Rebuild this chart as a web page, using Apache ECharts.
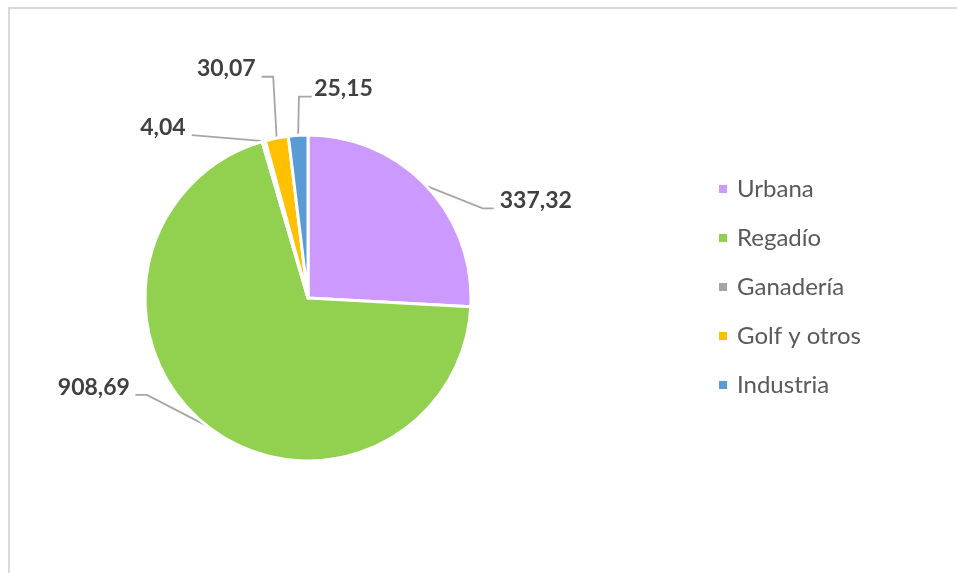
<!DOCTYPE html>
<html>
<head>
<meta charset="utf-8">
<script src="https://cdn.jsdelivr.net/npm/echarts@6/dist/echarts.min.js"></script>
<style>
html,body{margin:0;padding:0;background:#fff;}
#chart{width:957px;height:573px;}
</style>
</head>
<body>
<div id="chart"></div>
<script>
const categories = ['Urbana', 'Regadío', 'Ganadería', 'Golf y otros', 'Industria'];
const values = [337.32, 908.69, 4.04, 30.07, 25.15];
const colors = ['#CC99FF', '#92D050', '#A5A5A5', '#FFC000', '#5B9BD5'];

// label placement relative to each slice's anchor point (layout only)
const labelPlacement = [
  { bend: [56.5, 22.5], end: [67.5, 22.5], text: [73.5, 15], align: 'left' },
  { bend: [-60, -31], end: [-71.5, -31], text: [-77, -38.5], align: 'right' },
  { bend: [-72, -6], end: [-72, -6], text: [-78, -13.5], align: 'right' },
  { bend: [-3.5, -61.3], end: [-15.1, -61.3], text: [-21, -69], align: 'right' },
  { bend: [0.8, -38.6], end: [13.5, -38.6], text: [16, -47], align: 'left' }
];

const chart = echarts.init(document.getElementById('chart'), null, { renderer: 'canvas' });
const fmt = v => v.toFixed(2).replace('.', ',');

chart.setOption({
  animation: false,
  backgroundColor: '#ffffff',
  graphic: [{
    type: 'rect',
    shape: { x: 9, y: 8, width: 1200, height: 1000 },
    style: { fill: 'none', stroke: '#D9D9D9', lineWidth: 2 },
    silent: true,
    z: -1
  }],
  legend: {
    orient: 'vertical',
    left: 717,
    top: 177,
    padding: 0,
    itemWidth: 10,
    itemHeight: 10,
    itemGap: 25,
    icon: 'rect',
    data: categories,
    textStyle: {
      fontFamily: 'Lato',
      fontSize: 24,
      color: '#595959',
      padding: [0, 0, 0, 4]
    }
  },
  series: [{
    type: 'pie',
    center: [308, 298],
    radius: 163,
    startAngle: 90,
    clockwise: true,
    avoidLabelOverlap: false,
    itemStyle: { borderColor: '#ffffff', borderWidth: 3 },
    label: {
      show: true,
      position: 'outside',
      formatter: p => fmt(p.value),
      fontFamily: 'Lato',
      fontWeight: 'bold',
      fontSize: 23,
      color: '#404040'
    },
    labelLine: {
      show: true,
      length: 10,
      length2: 10,
      lineStyle: { color: '#A6A6A6', width: 1.8 }
    },
    labelLayout: function (params) {
      const pl = labelPlacement[params.dataIndex];
      const a = params.labelLinePoints[0];
      return {
        x: a[0] + pl.text[0],
        y: a[1] + pl.text[1],
        align: pl.align,
        verticalAlign: 'middle',
        labelLinePoints: [
          [a[0], a[1]],
          [a[0] + pl.bend[0], a[1] + pl.bend[1]],
          [a[0] + pl.end[0], a[1] + pl.end[1]]
        ]
      };
    },
    emphasis: { disabled: true },
    data: categories.map((c, i) => ({
      name: c,
      value: values[i],
      itemStyle: { color: colors[i] }
    }))
  }]
});
</script>
</body>
</html>
